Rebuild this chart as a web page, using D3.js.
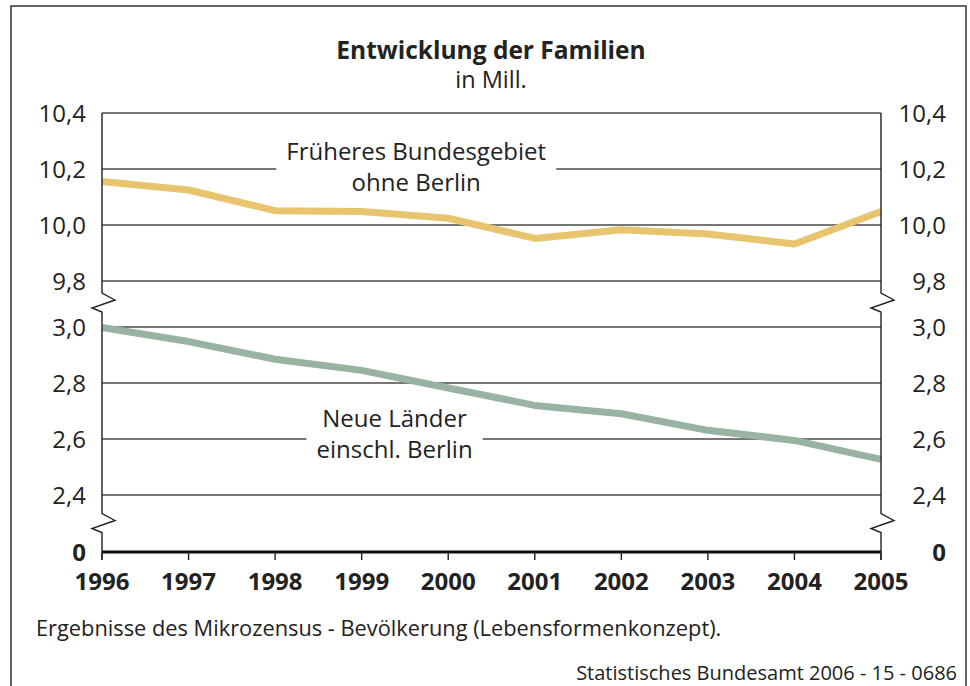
<!DOCTYPE html>
<html>
<head>
<meta charset="utf-8">
<script src="https://cdn.jsdelivr.net/npm/d3@7"></script>
<style>
    html, body { margin:0; padding:0; background:#fff; }
    #chart { width:970px; height:686px; }
    text { font-family:"Open Sans", sans-serif; fill:#222; }
</style>
</head>
<body>
<div id="chart"></div>
<script>
// data
var years = [1996, 1997, 1998, 1999, 2000, 2001, 2002, 2003, 2004, 2005]
var westValues = [10.155, 10.125, 10.051, 10.048, 10.024, 9.952, 9.983, 9.968, 9.932, 10.048]
var eastValues = [2.998, 2.948, 2.885, 2.845, 2.782, 2.72, 2.69, 2.631, 2.595, 2.527]
var yTicks = [0, 2.4, 2.6, 2.8, 3.0, 9.8, 10.0, 10.2, 10.4]
// axis breaks: 0 | 2,4 - 3,0 | 9,8 - 10,4
var yBreaks = [0, 2.4, 3.0, 9.8, 10.4]
var westLabel = ["Früheres Bundesgebiet", "ohne Berlin"]
var eastLabel = ["Neue Länder", "einschl. Berlin"]

!(function(){
    "use strict"

    var width = 970, height = 686
    var margin = {top:113, left:102, bottom:134, right:89}

    var svg = d3.select("#chart").append("svg")
        .attr("width", width).attr("height", height)

    var de = d3.formatLocale({decimal:",", thousands:".", grouping:[3], currency:["", " €"]})
    var fmt = function(v) { return v === 0 ? "0" : de.format(".1f")(v) }

    var x = d3.scaleLinear()
        .domain(d3.extent(years))
        .range([margin.left, width - margin.right])

    // polylinear scale, one piece per axis segment
    var y = d3.scaleLinear()
        .domain(yBreaks)
        .range([552, 495, 327, 281, 113])

    // frame
    svg.append("rect")
        .attr("x", 11).attr("y", 6)
        .attr("width", 955).attr("height", 720)
        .attr("fill", "none")
        .attr("stroke", "#333")
        .attr("stroke-width", 1.5)

    // title
    svg.append("text")
        .attr("x", 491).attr("y", 59)
        .attr("text-anchor", "middle")
        .style("font-size", "24.5px").style("font-weight", "bold")
        .text("Entwicklung der Familien")
    svg.append("text")
        .attr("x", 491).attr("y", 88)
        .attr("text-anchor", "middle")
        .style("font-size", "23.5px")
        .text("in Mill.")

    // gridlines
    svg.append("g").selectAll("line")
        .data(yTicks.filter(function(d) { return d > 0 }))
        .enter().append("line")
        .attr("x1", x.range()[0]).attr("x2", x.range()[1])
        .attr("y1", function(d) { return y(d) })
        .attr("y2", function(d) { return y(d) })
        .attr("stroke", "#4a4a4a")
        .attr("stroke-width", 1.6)

    // series labels, cutting the gridline
    function seriesLabel(lines, cx, baseline, gridValue) {
        var g = svg.append("g")
        var bg = g.append("rect").attr("fill", "#fff")
        var t = g.append("text")
            .attr("text-anchor", "middle")
            .style("font-size", "24px")
        t.selectAll("tspan")
            .data(lines)
            .enter().append("tspan")
            .attr("x", cx)
            .attr("y", function(d, i) { return baseline + i*31 })
            .text(function(d) { return d })
        var bb = t.node().getBBox()
        bg.attr("x", bb.x - 10).attr("width", bb.width + 20)
            .attr("y", y(gridValue) - 3).attr("height", 6)
    }
    seriesLabel(westLabel, x(1999.63), 160, 10.2)
    seriesLabel(eastLabel, x(1999.38), 427, 2.6)

    // lines
    var line = d3.line()
        .x(function(d, i) { return x(years[i]) })
        .y(function(d) { return y(d) })

    svg.append("path")
        .datum(westValues)
        .attr("d", line)
        .attr("fill", "none")
        .attr("stroke", "#e8c46e")
        .attr("stroke-width", 7)
        .attr("stroke-linejoin", "round")

    svg.append("path")
        .datum(eastValues)
        .attr("d", line)
        .attr("fill", "none")
        .attr("stroke", "#98b3a2")
        .attr("stroke-width", 7)
        .attr("stroke-linejoin", "round")

    // vertical axes with break marks
    var b1 = (y(9.8) + y(3.0))/2 - 2
    var b2 = (y(2.4) + y(0))/2 - 1
    function axisPath(ax) {
        var p = d3.path()
        p.moveTo(ax, y(10.4))
        ;[b1, b2].forEach(function(c) {
            p.lineTo(ax, c - 9)
            p.lineTo(ax + 13, c - 2)
            p.lineTo(ax - 10, c + 6)
            p.lineTo(ax, c + 10)
        })
        p.lineTo(ax, y(0) + 8)
        return p.toString()
    }
    svg.append("g").selectAll("path")
        .data(x.range())
        .enter().append("path")
        .attr("d", axisPath)
        .attr("fill", "none")
        .attr("stroke", "#222")
        .attr("stroke-width", 1.4)

    // x axis
    svg.append("line")
        .attr("x1", x.range()[0]).attr("x2", x.range()[1])
        .attr("y1", y(0)).attr("y2", y(0))
        .attr("stroke", "#111")
        .attr("stroke-width", 3)

    var xg = svg.append("g").selectAll("g")
        .data(years)
        .enter().append("g")
        .attr("transform", function(d) { return "translate(" + [x(d), y(0)] + ")" })
    xg.append("line")
        .attr("y2", 8)
        .attr("stroke", "#222")
        .attr("stroke-width", 1.4)
    xg.append("text")
        .attr("y", 38)
        .attr("text-anchor", "middle")
        .style("font-size", "24px").style("font-weight", "bold")
        .text(function(d) { return d })

    // y tick labels, both sides
    ;[86, 946].forEach(function(lx) {
        svg.append("g").selectAll("text")
            .data(yTicks)
            .enter().append("text")
            .attr("x", lx)
            .attr("y", function(d) { return y(d) })
            .attr("dy", "0.36em")
            .attr("text-anchor", "end")
            .style("font-size", "24px")
            .style("font-weight", function(d) { return d === 0 ? "bold" : "normal" })
            .text(fmt)
    })

    // notes
    svg.append("text")
        .attr("x", 36).attr("y", 636)
        .style("font-size", "21.8px")
        .text("Ergebnisse des Mikrozensus - Bevölkerung (Lebensformenkonzept).")
    svg.append("text")
        .attr("x", 957).attr("y", 680)
        .attr("text-anchor", "end")
        .style("font-size", "20px")
        .text("Statistisches Bundesamt 2006 - 15 - 0686")
}());
</script>
</body>
</html>
